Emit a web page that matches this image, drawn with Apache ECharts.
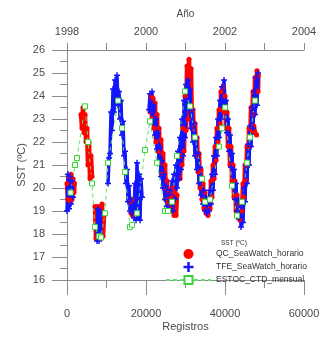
<!DOCTYPE html>
<html><head><meta charset="utf-8">
<script src="https://cdn.jsdelivr.net/npm/echarts@6/dist/echarts.min.js"></script>
<style>html,body{margin:0;padding:0;background:#fff}#c{width:324px;height:337px}</style>
</head><body><div id="c"></div>
<script>
// Axis ranges / ticks
const yearTicks = [1998, 2000, 2002, 2004];
const recTicks = [0, 20000, 40000, 60000];
const sstTicks = [16, 17, 18, 19, 20, 21, 22, 23, 24, 25, 26];

// QC_SeaWatch_horario (records, SST), band edges
const qcA = [[0,20.2],[253,19.5],[506,20.5],[760,19.4],[1013,20.6],[1266,19.5],[1519,20.4],[1772,19.8],[1900,20.2]];
const qcB = [[3545,23.2],[3798,22.6],[4051,23.5],[4304,22.4],[4558,23.2],[4811,22.0],[5064,22.6],[5317,21.0],[5570,22.0],[5824,20.4],[6077,21.4],[6330,20.5]];
const qcC = [[7090,19.2],[7343,17.8],[7596,19.2],[7849,17.8]];
const qcD = [[8356,19.2],[8609,17.8],[8862,19.3],[9115,17.9],[9368,18.8]];
const qcE = [[15952,19.4],[16205,18.9],[16458,19.5],[16580,18.8]];
const qcF = [[21016,23.3],[21269,24.0],[21522,23.0],[21775,23.9],[22028,22.6],[22282,23.7],[22535,22.0],[22788,23.2],[23041,21.6],[23294,22.6],[23548,21.1],[23801,22.1],[24054,20.6],[24307,21.5],[24560,20.0],[24814,21.0],[25067,19.5],[25320,20.3],[25573,19.3],[25826,19.8],[26080,19.2],[26333,19.6],[26586,19.0],[26839,20.0],[27092,18.8],[27346,19.8],[27599,18.8],[27852,19.7]];
const qcG = [[28612,20.4],[28865,21.4],[29118,21.0],[29371,22.6],[29624,21.6],[29878,24.0],[30131,22.5],[30384,25.3],[30637,23.0],[30890,25.6],[31144,23.4],[31397,25.2],[31650,22.6],[31903,23.4],[32156,22.2],[32410,22.8],[32663,21.4],[32916,22.2],[33169,20.7],[33422,21.5],[33676,20.0],[33929,20.8],[34182,19.5],[34435,20.2],[34688,19.1],[34942,19.8],[35195,18.9],[35448,19.4],[35701,18.8],[35954,19.5],[36208,19.1],[36461,20.3],[36714,19.6],[36967,21.0],[37220,20.4],[37474,21.8],[37727,21.2],[37980,22.6],[38233,22.0],[38486,23.4],[38740,22.8],[38993,24.2],[39246,23.4],[39499,24.4],[39752,23.3],[40006,24.0],[40259,22.6],[40512,23.3],[40765,21.8],[41018,22.6],[41272,21.0],[41525,21.8],[41778,20.3],[42031,21.0],[42284,19.6],[42538,20.3],[42791,19.0],[43044,19.7],[43297,18.7],[43550,19.3],[43804,18.6],[44057,19.4],[44310,19.0],[44563,20.2],[44816,19.6],[45070,21.0],[45323,20.3],[45576,21.8],[45829,21.0],[46082,22.6],[46336,21.8],[46589,23.5],[46842,22.5],[47095,24.2],[47348,23.2],[47602,24.8],[47855,23.8],[48108,25.1],[48361,24.2],[48440,24.9]];
const qcH = [[47300,22.7],[47600,22.4],[48000,22.3]];

// TFE_SeaWatch_horario
const tfeA = [[0,19.0],[253,20.6],[506,19.1],[760,20.5],[1013,19.3],[1266,20.3],[1519,19.6]];
const tfeB = [[7596,17.7],[7849,19.1],[8102,17.7],[8356,19.0],[8609,17.9]];
const tfeC = [[10381,20.2],[10634,21.3],[10888,21.5],[11141,23.3],[11394,22.5],[11647,24.3],[11900,23.3],[12154,24.7],[12407,23.8],[12660,24.9],[12913,23.6],[13166,24.2],[13420,23.0],[13673,23.8],[13926,22.3],[14179,22.9],[14432,21.4],[14686,21.6],[14939,20.2],[15192,20.8],[15445,19.4],[15698,20.1],[15952,19.0],[16205,19.5],[16458,18.9]];
const tfeD = [[16964,18.7],[17218,20.2],[17471,18.6],[17724,21.1],[17977,18.7],[18230,20.6],[18484,18.6],[18737,20.4],[18990,19.6]];
const tfeE = [[20762,23.4],[21016,24.1],[21269,23.3],[21522,24.2],[21775,22.9],[22028,23.6],[22282,22.3],[22535,23.0],[22788,21.7],[23041,22.4],[23294,21.1],[23548,21.8],[23801,20.5],[24054,21.2],[24307,20.0],[24560,20.6],[24814,19.5],[25067,20.1],[25320,19.2],[25573,19.7],[25826,19.1],[26080,19.9],[26333,19.3],[26586,20.3],[26839,19.0],[27092,20.6],[27346,19.5],[27599,21.0],[27852,20.0],[28105,21.6],[28358,20.4],[28612,22.2],[28865,20.8],[29118,23.0],[29371,21.4],[29624,23.8],[29878,22.2],[30131,24.5],[30384,23.5],[30637,24.7],[30890,23.4],[31144,24.3],[31397,22.6],[31650,23.4],[31903,22.0],[32156,22.8],[32410,21.4],[32663,22.2],[32916,20.8],[33169,21.5],[33422,20.2],[33676,20.9],[33929,19.7],[34182,20.4],[34435,19.3],[34688,19.9],[34942,19.0],[35195,19.6],[35448,18.9],[35701,19.5],[35954,19.0],[36208,19.9],[36461,19.3],[36714,20.6],[36967,19.9],[37220,21.4],[37474,20.6],[37727,22.2],[37980,21.4],[38233,23.0],[38486,22.2],[38740,23.8],[38993,23.0],[39246,24.4],[39499,23.7],[39752,24.7],[40006,23.6],[40259,23.8],[40512,22.4],[40765,23.0],[41018,21.6],[41272,22.3],[41525,20.9],[41778,21.5],[42031,20.1],[42284,20.8],[42538,19.5],[42791,20.2],[43044,19.0],[43297,19.5],[43550,18.7],[43804,19.3],[44057,18.3],[44310,19.2],[44563,18.5],[44816,20.0],[45070,19.4],[45323,21.0],[45576,20.2],[45829,21.9],[46082,21.0],[46336,22.7],[46589,21.8],[46842,23.5],[47095,22.6],[47348,24.2],[47602,23.2],[47855,24.8],[48108,23.6],[48361,25.0]];

// ESTOC_CTD_mensual
const estoc = [[900,19.8],[2030,21.0],[2530,21.3],[4560,23.55],[5320,22.0],[6330,20.2],[7090,18.3],[8100,17.9],[8610,17.85],[9620,18.9],[10380,21.1],[12910,23.8],[13930,22.6],[14690,20.7],[15950,18.3],[16460,18.4],[17720,18.9],[19750,21.65],[21020,22.9],[22790,21.1],[24810,19.0],[25570,19.0],[26590,19.4],[27850,21.4],[29880,24.2],[31140,23.55],[32410,22.2],[34180,20.4],[34940,19.4],[36210,19.5],[38490,21.8],[39250,22.6],[40010,23.5],[41780,20.1],[43040,18.8],[44310,19.4],[45580,21.1],[46340,22.2],[47600,23.8]];

const qcSegs = [qcA, qcB, qcC, qcD, qcE, qcF, qcG, qcH];
const tfeSegs = [tfeA, tfeB, tfeC, tfeD, tfeE];

const QC = 'QC_SeaWatch_horario', TFE = 'TFE_SeaWatch_horario', EST = 'ESTOC_CTD_mensual';
const plus = 'path://M3,0H5V3H8V5H5V8H3V5H0V3H3Z';
const FONT = 'Liberation Sans, Arial, sans-serif';
const axisCol = '#8a8a8a', txtCol = '#4a4a4a';

const series = [];
qcSegs.forEach(d => series.push({
  name: QC, type: 'line', data: d, symbol: 'circle', symbolSize: 5, showSymbol: true,
  lineStyle: {width: 4.5, color: '#ff0000'}, itemStyle: {color: '#ff0000'},
  emphasis: {disabled: true}, silent: true
}));
tfeSegs.forEach(d => series.push({
  name: TFE, type: 'line', data: d, symbol: plus, symbolSize: 6, showSymbol: true,
  lineStyle: {width: 3.5, color: '#1414ff'}, itemStyle: {color: '#1414ff'},
  emphasis: {disabled: true}, silent: true
}));
series.push({
  name: EST, type: 'line', data: estoc, symbol: 'rect', symbolSize: 5, showSymbol: true,
  lineStyle: {width: 1, color: '#66e066', type: [4, 3]},
  itemStyle: {color: '#ffffff', borderColor: '#33d433', borderWidth: 1},
  emphasis: {disabled: true}, silent: true
});

const chart = echarts.init(document.getElementById('c'), null, {renderer: 'canvas'});
chart.setOption({
  animation: false,
  backgroundColor: '#ffffff',
  textStyle: {fontFamily: FONT},
  title: {text: 'SST (ºC)', left: 221, top: 240, padding: 0,
    textStyle: {fontSize: 6.5, fontWeight: 'normal', color: '#333', fontFamily: FONT}},
  grid: {left: 67, top: 50, width: 237, height: 237, containLabel: false},
  legend: {
    orient: 'vertical', left: 165, top: 249, itemWidth: 45, itemHeight: 10, itemGap: 3,
    selectedMode: false, padding: 0,
    textStyle: {fontSize: 8.5, color: '#333', fontFamily: FONT},
    data: [{name: QC, icon: 'circle'}, {name: TFE, icon: plus}, {name: EST}]
  },
  xAxis: [{
    type: 'value', position: 'bottom', min: 0, max: 60000, interval: 20000,
    name: 'Registros', nameLocation: 'middle', nameGap: 41, nameMoveOverlap: false,
    nameTextStyle: {fontSize: 11, color: txtCol, fontFamily: FONT},
    axisLine: {show: true, lineStyle: {color: axisCol}},
    axisTick: {show: true, length: 15, lineStyle: {color: axisCol}},
    minorTick: {show: true, splitNumber: 2, length: 8, lineStyle: {color: axisCol}},
    axisLabel: {margin: 28, fontSize: 11, color: txtCol, formatter: v => String(v)},
    splitLine: {show: false}
  }, {
    type: 'value', position: 'top', min: 1998, max: 2004, interval: 2,
    name: 'Año', nameLocation: 'middle', nameGap: 31, nameMoveOverlap: false,
    nameTextStyle: {fontSize: 10, color: txtCol, fontFamily: FONT},
    axisLine: {show: true, lineStyle: {color: axisCol}},
    axisTick: {show: true, length: 7, lineStyle: {color: axisCol}},
    minorTick: {show: true, splitNumber: 2, length: 7, lineStyle: {color: axisCol}},
    axisLabel: {margin: 13, fontSize: 11, color: txtCol, formatter: v => String(v)},
    splitLine: {show: false}
  }],
  yAxis: {
    type: 'value', min: 16, max: 26, interval: 1,
    name: 'SST (ºC)', nameLocation: 'middle', nameGap: 40, nameRotate: 90, nameMoveOverlap: false,
    nameTextStyle: {fontSize: 11, color: txtCol, fontFamily: FONT},
    axisLine: {show: true, lineStyle: {color: axisCol}},
    axisTick: {show: true, length: 15, lineStyle: {color: axisCol}},
    minorTick: {show: true, splitNumber: 2, length: 7, lineStyle: {color: axisCol}},
    axisLabel: {margin: 22, fontSize: 11, color: txtCol, formatter: v => String(v)},
    splitLine: {show: false}
  },
  series: series
});
</script></body></html>
